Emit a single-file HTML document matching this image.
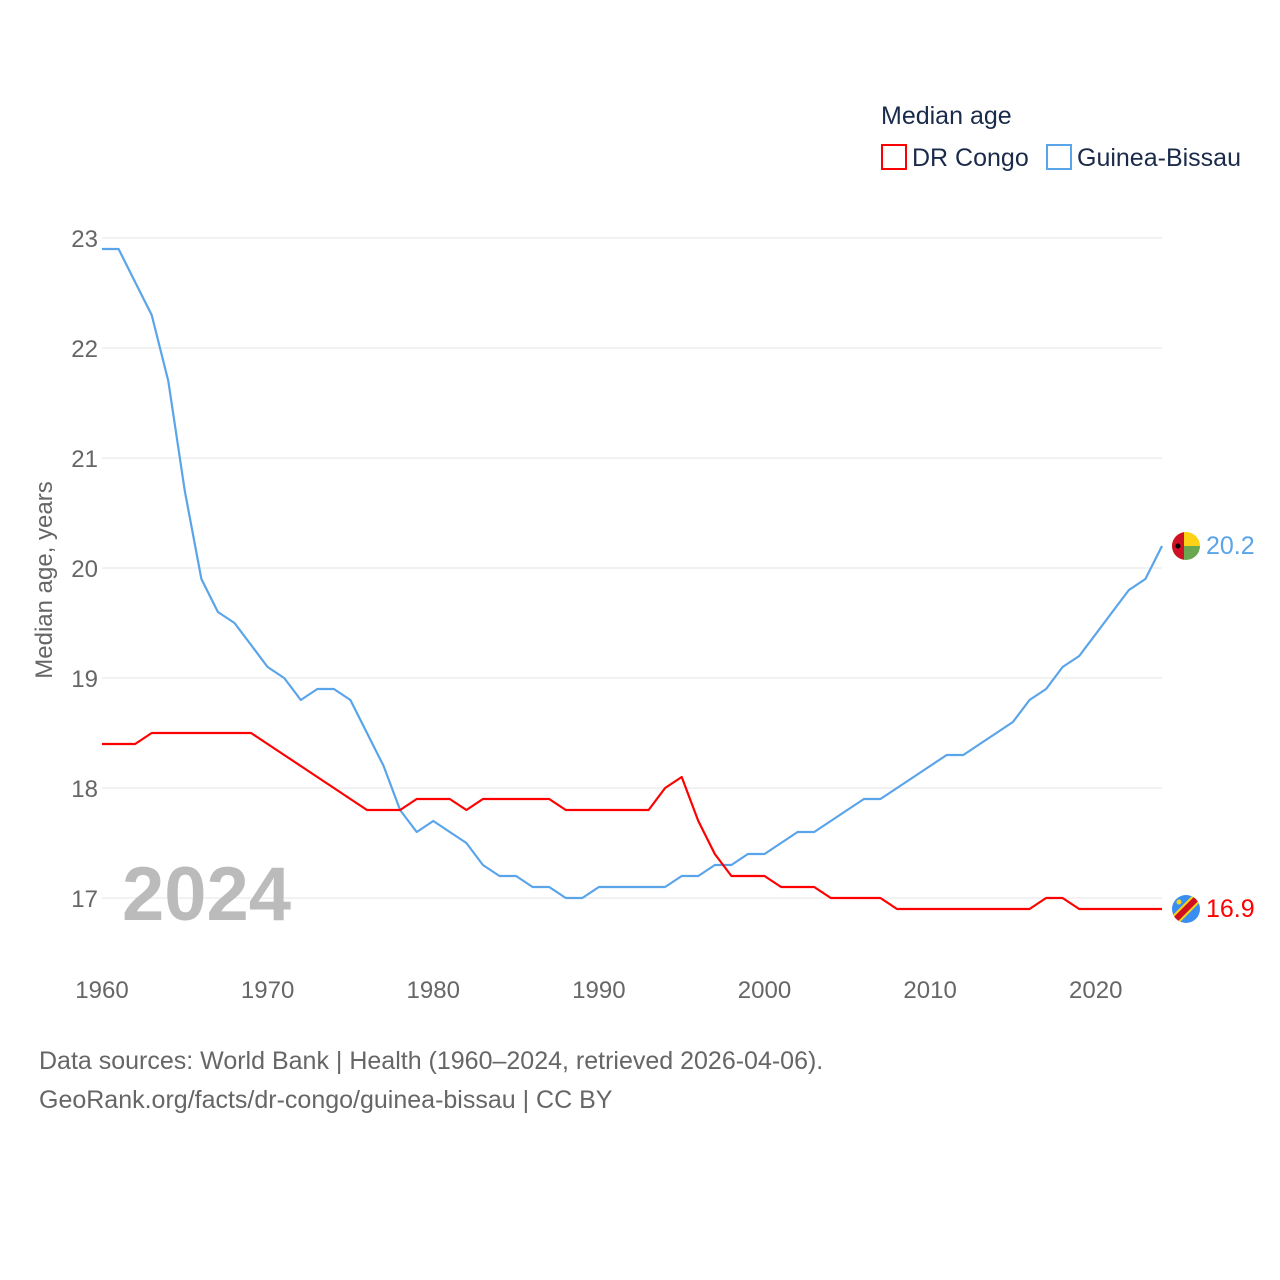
<!DOCTYPE html>
<html><head><meta charset="utf-8"><style>
html,body{margin:0;padding:0;background:#fff;}
svg{display:block;font-family:"Liberation Sans",sans-serif;}
</style></head><body>
<svg id="chart" width="1280" height="1280" viewBox="0 0 1280 1280">
<defs>
<clipPath id="gbclip"><circle cx="0" cy="0" r="14"/></clipPath>
<clipPath id="cdclip"><circle cx="0" cy="0" r="14"/></clipPath>
</defs>
<g id="grid"></g>
<g id="yticks"></g>
<g id="xticks"></g>
<text x="52" y="580" transform="rotate(-90 52 580)" text-anchor="middle" font-size="24" fill="#666">Median age, years</text>
<text x="122" y="920" font-size="76" font-weight="bold" fill="#bbb">2024</text>
<g id="series"></g>
<text x="881" y="124" font-size="25" fill="#1a2a4a">Median age</text>
<g>
<rect x="882" y="145" width="24" height="24" fill="none" stroke="#f00" stroke-width="2"/>
<text x="912" y="166" font-size="25" fill="#1a2a4a">DR Congo</text></g>
<g>
<rect x="1047" y="145" width="24" height="24" fill="none" stroke="#5aa4ea" stroke-width="2"/>
<text x="1077" y="166" font-size="25" fill="#1a2a4a">Guinea-Bissau</text></g>
<text x="39" y="1069" font-size="25" fill="#666">Data sources: World Bank | Health (1960–2024, retrieved 2026-04-06).</text>
<text x="39" y="1108" font-size="25" fill="#666">GeoRank.org/facts/dr-congo/guinea-bissau | CC BY</text>
</svg>
<script>
const years=[];for(let y=1960;y<=2024;y++)years.push(y);
const guineaBissau=[22.9,22.9,22.6,22.3,21.7,20.7,19.9,19.6,19.5,19.3,19.1,19.0,18.8,18.9,18.9,18.8,18.5,18.2,17.8,17.6,17.7,17.6,17.5,17.3,17.2,17.2,17.1,17.1,17.0,17.0,17.1,17.1,17.1,17.1,17.1,17.2,17.2,17.3,17.3,17.4,17.4,17.5,17.6,17.6,17.7,17.8,17.9,17.9,18.0,18.1,18.2,18.3,18.3,18.4,18.5,18.6,18.8,18.9,19.1,19.2,19.4,19.6,19.8,19.9,20.2];
const drCongo=[18.4,18.4,18.4,18.5,18.5,18.5,18.5,18.5,18.5,18.5,18.4,18.3,18.2,18.1,18.0,17.9,17.8,17.8,17.8,17.9,17.9,17.9,17.8,17.9,17.9,17.9,17.9,17.9,17.8,17.8,17.8,17.8,17.8,17.8,18.0,18.1,17.7,17.4,17.2,17.2,17.2,17.1,17.1,17.1,17.0,17.0,17.0,17.0,16.9,16.9,16.9,16.9,16.9,16.9,16.9,16.9,16.9,17.0,17.0,16.9,16.9,16.9,16.9,16.9,16.9];
const yTicks=[17,18,19,20,21,22,23];
const xTicks=[1960,1970,1980,1990,2000,2010,2020];
const NS='http://www.w3.org/2000/svg';
const xs=y=>102+(y-1960)*(1162-102)/64;
const ys=v=>898-(v-17)*110;
function mk(t,a,p){const e=document.createElementNS(NS,t);for(const k in a)e.setAttribute(k,a[k]);p.appendChild(e);return e;}
const grid=document.getElementById('grid'),yt=document.getElementById('yticks'),xt=document.getElementById('xticks'),ser=document.getElementById('series');
yTicks.forEach(v=>{
 const l=mk('line',{x1:102,x2:1162,y1:ys(v),y2:ys(v),stroke:'#e6e6e6','stroke-width':1},grid);
 
 
 const t=mk('text',{x:98,y:ys(v)+9,'text-anchor':'end','font-size':24,fill:'#666'},yt);t.textContent=v;
 
 
});
xTicks.forEach(v=>{
 const t=mk('text',{x:xs(v),y:998,'text-anchor':'middle','font-size':24,fill:'#666'},xt);t.textContent=v;
 
 
});
function flag(g,name){
 if(name==='guinea-bissau'){
  const c=mk('g',{'clip-path':'url(#gbclip)'},g);
  mk('rect',{x:-14,y:-14,width:28,height:14,fill:'#fcd116'},c);
  mk('rect',{x:-14,y:0,width:28,height:14,fill:'#6aa84f'},c);
  mk('rect',{x:-14,y:-14,width:12,height:28,fill:'#ce1126'},c);
  mk('circle',{cx:-8,cy:0,r:2.5,fill:'#000'},c);
 } else {
  const c=mk('g',{'clip-path':'url(#cdclip)'},g);
  mk('rect',{x:-14,y:-14,width:28,height:28,fill:'#3a8ef0'},c);
  mk('line',{x1:-16,y1:16,x2:16,y2:-16,stroke:'#f7d618','stroke-width':10},c);
  mk('line',{x1:-16,y1:16,x2:16,y2:-16,stroke:'#ce1021','stroke-width':6},c);
  mk('circle',{cx:-7,cy:-7,r:2.5,fill:'#f7d618'},c);
 }
}
function line(vals,col,name){
 const d=vals.map((v,i)=>(i?'L':'M')+xs(years[i]).toFixed(1)+' '+ys(v).toFixed(1)).join(' ');
 const p=mk('path',{d:d,fill:'none',stroke:col,'stroke-width':2.2,'stroke-linejoin':'round'},ser);
 
 
 const last=vals[vals.length-1],lx=xs(years[years.length-1]),ly=ys(last);
 const g=mk('g',{transform:'translate('+(lx+24)+','+ly+')'},ser);
 
 
 flag(g,name);
 const t=mk('text',{x:lx+44,y:ly+8,'font-size':25,fill:col},ser);t.textContent=last.toFixed(1);
 
 
}
line(guineaBissau,'#5aa4ea','guinea-bissau');
line(drCongo,'#ff0000','dr-congo');
</script>
</body></html>
